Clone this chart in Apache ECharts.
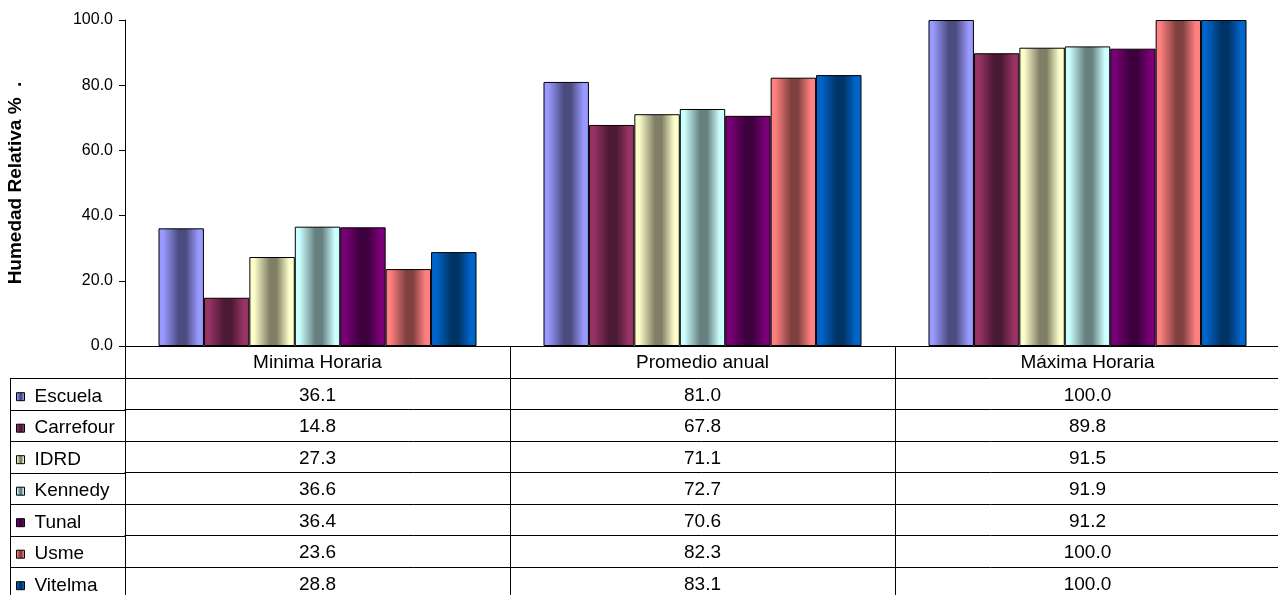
<!DOCTYPE html>
<html>
<head>
<meta charset="utf-8">
<script src="https://cdn.jsdelivr.net/npm/echarts@6/dist/echarts.min.js"></script>
<style>
html,body{margin:0;padding:0;background:#fff;}
#chart{width:1278px;height:595px;}
</style>
</head>
<body>
<div id="chart"></div>
<script>
const categories = ['Minima Horaria', 'Promedio anual', 'Máxima Horaria'];
const stationNames = ['Escuela', 'Carrefour', 'IDRD', 'Kennedy', 'Tunal', 'Usme', 'Vitelma'];
const escuela   = [36.1, 81.0, 100.0];
const carrefour = [14.8, 67.8, 89.8];
const idrd      = [27.3, 71.1, 91.5];
const kennedy   = [36.6, 72.7, 91.9];
const tunal     = [36.4, 70.6, 91.2];
const usme      = [23.6, 82.3, 100.0];
const vitelma   = [28.8, 83.1, 100.0];
const yTicks = [0, 20, 40, 60, 80, 100];

const seriesValues = [escuela, carrefour, idrd, kennedy, tunal, usme, vitelma];
const lightColors = ['#9999FF', '#993366', '#FFFFCC', '#CCFFFF', '#7A0078', '#FF8080', '#0066CC'];
const darkColors  = ['#4B4B80', '#4A1933', '#7F7F66', '#668080', '#3C003C', '#804040', '#003366'];

const FONT = 'Liberation Sans, Arial, sans-serif';
const GRID_LEFT = 125, GRID_TOP = 20, GRID_H = 326;
const HEADER_H = 32, ROW_H = 31.5, TABLE_LEFT = 10;
const TABLE_TOP = GRID_TOP + GRID_H + HEADER_H;

function grad(i) {
  return new echarts.graphic.LinearGradient(0, 0, 1, 0, [
    {offset: 0, color: lightColors[i]},
    {offset: 0.1, color: lightColors[i]},
    {offset: 0.45, color: darkColors[i]},
    {offset: 0.6, color: darkColors[i]},
    {offset: 0.88, color: lightColors[i]},
    {offset: 1, color: lightColors[i]}
  ]);
}

const lineStyle = {color: '#000', width: 1};

const xAxes = [{
  type: 'category', data: categories, position: 'bottom',
  axisLine: {show: true, lineStyle},
  axisTick: {show: true, length: HEADER_H, interval: 0, lineStyle},
  axisLabel: {interval: 0, color: '#000', fontFamily: FONT, fontSize: 19, margin: 7}
}];
seriesValues.forEach((vals, k) => {
  xAxes.push({
    type: 'category', data: categories, position: 'bottom',
    offset: HEADER_H + k * ROW_H,
    axisLine: {show: true, lineStyle},
    axisTick: {show: true, length: ROW_H, interval: 0, lineStyle},
    axisLabel: {interval: 0, color: '#000', fontFamily: FONT, fontSize: 19, margin: 8,
      formatter: (v, i) => vals[i].toFixed(1)}
  });
});

const legends = stationNames.map((name, k) => ({
  orient: 'vertical', left: 16, top: TABLE_TOP + k * ROW_H + 8.7,
  padding: 0, itemWidth: 8, itemHeight: 8,
  icon: 'rect',
  data: [name],
  itemStyle: {borderColor: '#000', borderWidth: 1},
  textStyle: {fontFamily: FONT, fontSize: 19, color: '#000', lineHeight: 20, padding: [0, 0, 0, 5]}
}));

const graphics = [];
for (let k = 0; k <= stationNames.length; k++) {
  const y = Math.round(TABLE_TOP + k * ROW_H) + 0.5;
  graphics.push({type: 'line', shape: {x1: TABLE_LEFT, y1: y, x2: GRID_LEFT, y2: y}, style: {stroke: '#000', lineWidth: 1}});
}
graphics.push({type: 'line', shape: {x1: TABLE_LEFT + 0.5, y1: TABLE_TOP, x2: TABLE_LEFT + 0.5, y2: 600}, style: {stroke: '#000', lineWidth: 1}});

const chart = echarts.init(document.getElementById('chart'), null, {renderer: 'canvas'});
chart.setOption({
  animation: false,
  backgroundColor: '#fff',
  textStyle: {fontFamily: FONT},
  grid: {left: GRID_LEFT, top: GRID_TOP, width: 1155, height: GRID_H, containLabel: false, outerBoundsMode: 'none'},
  legend: legends,
  xAxis: xAxes,
  yAxis: {
    type: 'value', min: 0, max: 100, interval: 20,
    name: 'Humedad Relativa %  .', nameLocation: 'middle', nameGap: 100, nameRotate: 90,
    nameTextStyle: {fontFamily: FONT, fontSize: 19, fontWeight: 'bold', color: '#000'},
    axisLine: {show: true, lineStyle},
    axisTick: {show: true, length: 6, lineStyle},
    splitLine: {show: false},
    axisLabel: {color: '#000', fontFamily: FONT, fontSize: 16, margin: 12,
      formatter: v => yTicks.includes(v) ? v.toFixed(1) : ''}
  },
  series: seriesValues.map((vals, i) => ({
    name: stationNames[i], type: 'bar', data: vals, xAxisIndex: 0,
    barGap: '0%', barCategoryGap: '17.4%',
    itemStyle: {color: grad(i), borderColor: '#000', borderWidth: 1}
  })),
  graphic: graphics
});
</script>
</body>
</html>
